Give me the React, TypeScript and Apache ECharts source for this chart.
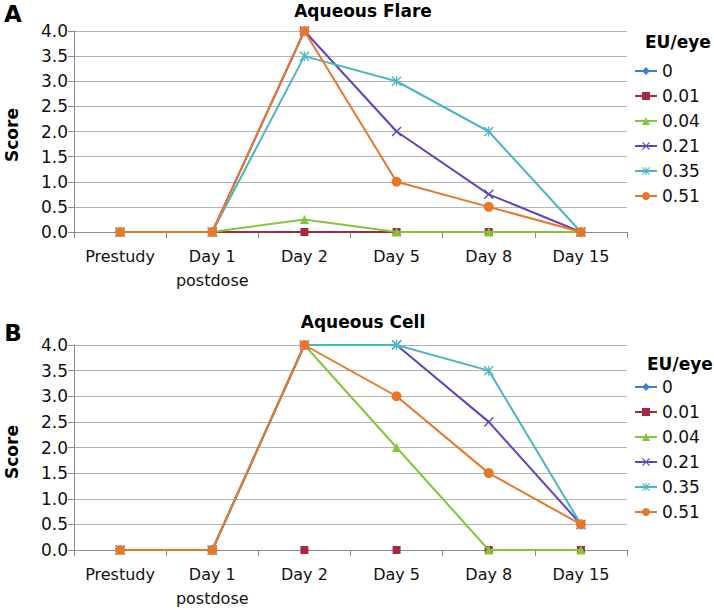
import React, { useEffect, useRef } from "react";
import * as echarts from "echarts";

const categories = ["Prestudy", "Day 1\npostdose", "Day 2", "Day 5", "Day 8", "Day 15"];
const seriesNames = ["0", "0.01", "0.04", "0.21", "0.35", "0.51"];
const yTicks = [0, 0.5, 1, 1.5, 2, 2.5, 3, 3.5, 4];

// Panel A – Aqueous Flare
const flare0 = [0, 0, 0, 0, 0, 0];
const flare001 = [0, 0, 0, 0, 0, 0];
const flare004 = [0, 0, 0.25, 0, 0, 0];
const flare021 = [0, 0, 4.0, 2.0, 0.75, 0];
const flare035 = [0, 0, 3.5, 3.0, 2.0, 0];
const flare051 = [0, 0, 4.0, 1.0, 0.5, 0];

// Panel B – Aqueous Cell
const cell0 = [0, 0, 0, 0, 0, 0];
const cell001 = [0, 0, 0, 0, 0, 0];
const cell004 = [0, 0, 4.0, 2.0, 0, 0];
const cell021 = [0, 0, 4.0, 4.0, 2.5, 0.5];
const cell035 = [0, 0, 4.0, 4.0, 3.5, 0.5];
const cell051 = [0, 0, 4.0, 3.0, 1.5, 0.5];

const colors = ["#3f7fd6", "#a8283f", "#84c63a", "#5c45c2", "#4cb6c2", "#ea7628"];
const crossPath = "path://M0,1L1,0L5,4L9,0L10,1L6,5L10,9L9,10L5,6L1,10L0,9L4,5Z";
const starPath =
  "path://M0,1L1,0L5,4L9,0L10,1L6,5L10,9L9,10L5,6L1,10L0,9L4,5Z M4.4,0L5.6,0L5.6,10L4.4,10Z";
const symbols = ["diamond", "rect", "triangle", crossPath, starPath, "circle"];
const symbolSizes = [8, 8, 9, 10, 10, 10];

const FONT = "DejaVu Sans";

export default function App() {
  const ref = useRef<HTMLDivElement>(null);
  useEffect(() => {
    if (!ref.current) return;
    const chart = echarts.init(ref.current, null, { renderer: "svg" });

    const grids = [
      { left: 74, top: 31, width: 553, height: 201 },
      { left: 74, top: 345, width: 553, height: 206 },
    ];

    const xAxis = grids.map((_, i) => ({
      type: "category",
      gridIndex: i,
      data: categories,
      boundaryGap: true,
      axisLine: { lineStyle: { color: "#8c8c8c", width: 1 } },
      axisTick: { show: true, length: 6, lineStyle: { color: "#8c8c8c" } },
      axisLabel: {
        color: "#111",
        fontFamily: FONT,
        fontSize: 16,
        lineHeight: 24,
        margin: 12,
        interval: 0,
      },
    }));

    const yAxis = grids.map((_, i) => ({
      type: "value",
      gridIndex: i,
      min: 0,
      max: 4,
      interval: 0.5,
      axisLine: { show: true, lineStyle: { color: "#8c8c8c", width: 1 } },
      axisTick: { show: true, length: 6, lineStyle: { color: "#8c8c8c" } },
      splitLine: { show: true, lineStyle: { color: "#b4b4b4", width: 1 } },
      axisLabel: {
        color: "#111",
        fontFamily: FONT,
        fontSize: 17,
        margin: 6,
        formatter: (v: number) => (yTicks.includes(v) ? v.toFixed(1) : ""),
      },
    }));

    const panelData = [
      [flare0, flare001, flare004, flare021, flare035, flare051],
      [cell0, cell001, cell004, cell021, cell035, cell051],
    ];

    const series: any[] = [];
    panelData.forEach((group, p) => {
      group.forEach((vals, s) => {
        const hideLine = p === 1 && (s === 0 || s === 1);
        series.push({
          type: "line",
          name: seriesNames[s],
          xAxisIndex: p,
          yAxisIndex: p,
          data: vals,
          symbol: symbols[s],
          symbolSize: symbolSizes[s],
          showAllSymbol: true,
          clip: false,
          color: colors[s],
          itemStyle: { color: colors[s] },
          lineStyle: { color: colors[s], width: 2, opacity: hideLine ? 0 : 1 },
          emphasis: { disabled: true },
          z: 2 + s,
        });
      });
    });

    const legendBase = {
      orient: "vertical",
      left: 634,
      itemWidth: 22,
      itemHeight: 10,
      itemGap: 5,
      padding: 0,
      data: seriesNames,
      selectedMode: false,
      textStyle: { fontFamily: FONT, fontSize: 17, lineHeight: 20, color: "#111" },
    };

    chart.setOption({
      animation: false,
      backgroundColor: "#ffffff",
      grid: grids,
      xAxis,
      yAxis,
      series,
      legend: [
        { ...legendBase, top: 61 },
        { ...legendBase, top: 377 },
      ],
      graphic: [
        {
          type: "text",
          x: 13,
          y: 14,
          style: { text: "A", font: `bold 23px ${FONT}`, fill: "#000", textAlign: "center", textVerticalAlign: "middle" },
        },
        {
          type: "text",
          x: 13,
          y: 333,
          style: { text: "B", font: `bold 23px ${FONT}`, fill: "#000", textAlign: "center", textVerticalAlign: "middle" },
        },
        {
          type: "text",
          x: 363,
          y: 11,
          style: { text: "Aqueous Flare", font: `bold 17px ${FONT}`, fill: "#000", textAlign: "center", textVerticalAlign: "middle" },
        },
        {
          type: "text",
          x: 363,
          y: 322,
          style: { text: "Aqueous Cell", font: `bold 17px ${FONT}`, fill: "#000", textAlign: "center", textVerticalAlign: "middle" },
        },
        {
          type: "text",
          x: 12,
          y: 135,
          rotation: Math.PI / 2,
          style: { text: "Score", font: `bold 17px ${FONT}`, fill: "#000", textAlign: "center", textVerticalAlign: "middle" },
        },
        {
          type: "text",
          x: 12,
          y: 452,
          rotation: Math.PI / 2,
          style: { text: "Score", font: `bold 17px ${FONT}`, fill: "#000", textAlign: "center", textVerticalAlign: "middle" },
        },
        {
          type: "text",
          x: 645,
          y: 42,
          style: { text: "EU/eye", font: `bold 17px ${FONT}`, fill: "#000", textAlign: "left", textVerticalAlign: "middle" },
        },
        {
          type: "text",
          x: 647,
          y: 364,
          style: { text: "EU/eye", font: `bold 17px ${FONT}`, fill: "#000", textAlign: "left", textVerticalAlign: "middle" },
        },
      ],
    });
    return () => chart.dispose();
  }, []);

  return (
    <div
      ref={ref}
      style={{ position: "fixed", left: 0, top: 0, width: 714, height: 610, background: "#fff" }}
    />
  );
}
